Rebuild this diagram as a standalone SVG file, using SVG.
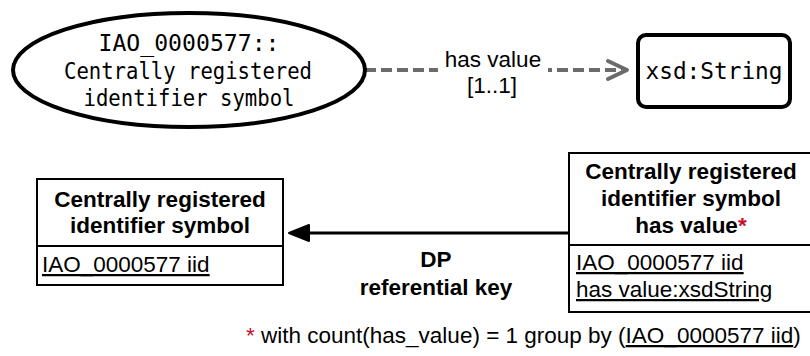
<svg xmlns="http://www.w3.org/2000/svg" width="810" height="356" viewBox="0 0 810 356">
  <style>
    .mono { font-family: "DejaVu Sans Mono", "Liberation Mono", monospace; font-size: 22.5px; fill: #000; }
    .sans { font-family: "Liberation Sans", Arial, Helvetica, sans-serif; font-size: 22.5px; fill: #000; }
    .bold { font-weight: bold; }
    .mid { text-anchor: middle; }
    .u { text-decoration: underline; }
    .red { fill: #c8102e; }
    .shape { fill: #fff; stroke: #000; }
    .thick { stroke-width: 4; }
    .thin { stroke-width: 2; }
    .dash { fill: none; stroke: #6b6b6b; stroke-width: 4; stroke-dasharray: 11 5; }
    .chev { fill: none; stroke: #6b6b6b; stroke-width: 4; stroke-linecap: round; stroke-linejoin: round; }
    .solid { fill: none; stroke: #000; stroke-width: 3; }
  </style>
  <rect width="810" height="356" fill="#fff"/>

  <g id="connectors">
    <g id="edge-has-value">
      <path class="dash" d="M365,70 H622"/>
      <path class="chev" d="M608,61 L627,70 L608,79"/>
      <rect x="438" y="46" width="110" height="54" fill="#fff"/>
      <text class="sans mid" x="493" y="67" font-size="24.5">has value</text>
      <text class="sans mid" x="492" y="93" font-size="24.5">[1..1]</text>
    </g>
    <g id="edge-referential-key">
      <path class="solid" d="M569,233 H305"/>
      <polygon points="289,233 309,225 309,241" fill="#000" stroke="#000" stroke-width="2" stroke-linejoin="round"/>
      <text class="sans bold mid" x="436" y="267" font-size="24.5">DP</text>
      <text class="sans bold mid" x="436" y="295" font-size="24.5">referential key</text>
    </g>
  </g>

  <g id="node-iao-class">
    <ellipse class="shape thick" cx="189" cy="70" rx="176" ry="57"/>
    <text class="mono mid" x="189" y="51" textLength="181" lengthAdjust="spacingAndGlyphs">IAO_0000577::</text>
    <text class="mono mid" x="188" y="79" textLength="248" lengthAdjust="spacingAndGlyphs">Centrally registered</text>
    <text class="mono mid" x="189" y="106" textLength="211" lengthAdjust="spacingAndGlyphs">identifier symbol</text>
  </g>

  <g id="node-xsd-string">
    <rect class="shape thick" x="638" y="35" width="152" height="72" rx="8" ry="8"/>
    <text class="mono mid" x="714" y="79" textLength="137" lengthAdjust="spacingAndGlyphs">xsd:String</text>
  </g>

  <g id="node-table-symbol">
    <rect class="shape thin" x="37" y="179" width="246" height="106"/>
    <line class="thin" stroke="#000" x1="37" y1="246" x2="283" y2="246"/>
    <text class="sans bold mid" x="160" y="207">Centrally registered</text>
    <text class="sans bold mid" x="160" y="233">identifier symbol</text>
    <text class="sans u" x="42" y="272">IAO_0000577 iid</text>
  </g>

  <g id="node-table-has-value">
    <rect class="shape thin" x="569" y="153" width="244" height="159"/>
    <line class="thin" stroke="#000" x1="569" y1="245" x2="813" y2="245"/>
    <text class="sans bold mid" x="691" y="179">Centrally registered</text>
    <text class="sans bold mid" x="691" y="206">identifier symbol</text>
    <text class="sans bold mid" x="691" y="233">has value<tspan class="red">*</tspan></text>
    <text class="sans u" x="576" y="270">IAO_0000577 iid</text>
    <text class="sans u" x="576" y="297">has value:xsdString</text>
  </g>

  <g id="footnote">
    <text class="sans" x="246" y="343" font-size="23.5"><tspan class="red">*</tspan> with count(has_value) = 1 group by (<tspan class="u">IAO_0000577 iid</tspan>)</text>
  </g>
</svg>
